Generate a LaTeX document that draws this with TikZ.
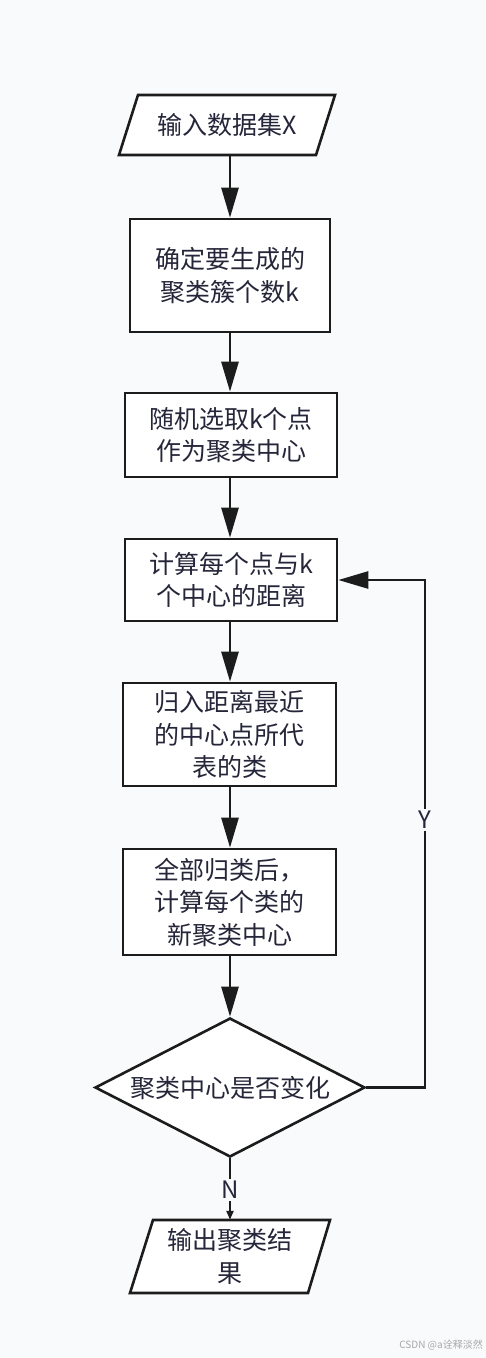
\documentclass[tikz,border=0pt]{standalone}
\usepackage{fontspec}
\setmainfont{Noto Sans CJK SC}
\usetikzlibrary{arrows.meta,shapes.geometric}
\definecolor{linec}{HTML}{1C1C1C}
\definecolor{txtc}{HTML}{26263A}
\definecolor{bgc}{HTML}{F9FAFB}
\definecolor{wmc}{HTML}{A8A8A8}
\begin{document}
\begin{tikzpicture}[x=1pt,y=-1pt,
  box/.style={draw=linec, line width=2.6pt, fill=white, align=center, inner sep=0pt, text=txtc, font=\fontsize{25}{32.5}\selectfont},
  plain/.style={align=center, inner sep=0pt, text=txtc, font=\fontsize{25}{32.5}\selectfont},
  para/.style={draw=linec, line width=2.6pt, fill=white, line join=miter},
  decision/.style={diamond, aspect=1.94, draw=linec, line width=2.6pt, fill=white, inner sep=0pt, text=txtc, font=\fontsize{25}{32.5}\selectfont},
  arr/.style={draw=linec, line width=2.6pt, -{Triangle[length=30pt,width=17pt]}},
  smallarr/.style={draw=linec, line width=2.6pt, -{Triangle[length=9pt,width=7pt]}},
  lbl/.style={fill=bgc, inner sep=2pt, text=txtc, font=\fontsize{24}{28}\selectfont}
]
\fill[bgc] (0,0) rectangle (486,1358);
\useasboundingbox (0,0) rectangle (486,1358);

% input
\draw[para] (119,155) -- (316,155) -- (335,95) -- (138,95) -- cycle;
\node[plain, minimum width=200, minimum height=60] (in) at (227,125) {输入数据集X};

\node[box, minimum width=200, minimum height=113] (b2) at (230,275.5) {确定要生成的\\聚类簇个数k};
\node[box, minimum width=212, minimum height=84] (b3) at (231,435) {随机选取k个点\\作为聚类中心};
\node[box, minimum width=212, minimum height=82] (b4) at (231,580) {计算每个点与k\\个中心的距离};
\node[box, minimum width=213, minimum height=103] (b5) at (229.5,734.5) {归入距离最近\\的中心点所代\\表的类};
\node[box, minimum width=213, minimum height=106] (b6) at (229.5,902) {全部归类后，\\计算每个类的\\新聚类中心};
\node[decision, minimum width=270, minimum height=139] (dec) at (230,1087.5) {聚类中心是否变化};

% output
\draw[para] (130,1293) -- (308,1293) -- (330,1220) -- (153,1220) -- cycle;
\node[plain, minimum width=180, minimum height=73] (out) at (230,1256.5) {输出聚类结\\果};

% connectors
\draw[arr] (in.south -| b2.north) -- (b2.north);
\draw[arr] (b2.south) -- (b2.south |- b3.north);
\draw[arr] (b3.south -| b2.south) -- (b2.south |- b4.north);
\draw[arr] (b4.south -| b2.south) -- (b2.south |- b5.north);
\draw[arr] (b5.south -| b2.south) -- (b2.south |- b6.north);
\draw[arr] (b6.south -| dec.north) -- (dec.north);

\coordinate (fr) at (425,1087.5);
\draw[arr] (dec.east) -- (fr) -- (fr |- b4.east) -- (b4.east);
\node[lbl] (ylab) at (425,820) {Y};

\draw[smallarr] (dec.south) -- (out.north);
\node[lbl] (nlab) at (230,1190) {N};

\node[anchor=east, inner sep=0pt, text=wmc, font=\fontsize{10}{12}\selectfont] (wm) at (483,1345) {CSDN @a诠释淡然};
\end{tikzpicture}
\end{document}
